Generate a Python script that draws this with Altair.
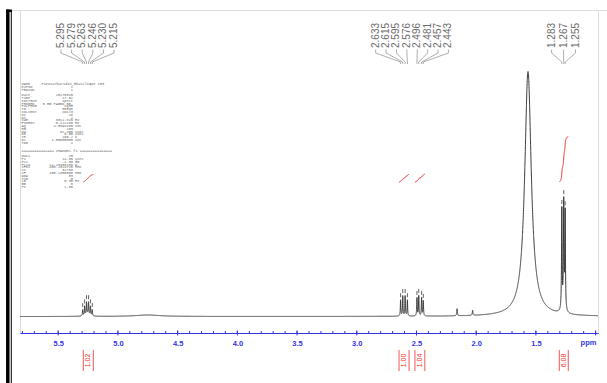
import numpy as np
import pandas as pd
import altair as alt

alt.data_transformers.disable_max_rows()

# ---------------------------------------------------------------------------
# 1H NMR spectrum: Lorentzian lines (position ppm, amplitude, half-width ppm)
# ---------------------------------------------------------------------------
peak_ppm = [5.295, 5.279, 5.263, 5.246, 5.230, 5.215, 5.255,
            2.633, 2.615, 2.595, 2.576, 2.496, 2.481, 2.457, 2.443,
            2.160, 2.030,
            1.566,
            1.283, 1.267, 1.255, 1.269,
            4.750]
peak_height = [6, 9, 12, 12, 9, 6, 2.5,
               16, 20, 20, 16, 18, 20, 18, 15,
               7, 5,
               245,
               100, 104, 97, 5,
               1.5]
peak_halfwidth = [0.0025, 0.0025, 0.0025, 0.0025, 0.0025, 0.0025, 0.02,
                  0.0025, 0.0025, 0.0025, 0.0025, 0.0025, 0.0025, 0.0025, 0.0025,
                  0.003, 0.003,
                  0.033,
                  0.0028, 0.0028, 0.0028, 0.015,
                  0.12]

# picked peaks (labels along the top)
pick_labels = ["5.295", "5.279", "5.263", "5.246", "5.230", "5.215",
               "2.633", "2.615", "2.595", "2.576", "2.496", "2.481", "2.457", "2.443",
               "1.283", "1.267", "1.255"]
pick_group = [0, 0, 0, 0, 0, 0,
              1, 1, 1, 1, 1, 1, 1, 1,
              2, 2, 2]
group_label_step = [0.089, 0.087, 0.100]   # ppm between neighbouring label columns

# integration regions
integral_start = [5.290, 2.646, 2.513, 1.304]
integral_end = [5.206, 2.562, 2.430, 1.229]
integral_value = [1.02, 1.00, 1.04, 6.08]

# ppm axis
major_ticks = [1.0, 1.5, 2.0, 2.5, 3.0, 3.5, 4.0, 4.5, 5.0, 5.5]
minor_ticks = [round(1.0 + 0.1 * i, 1) for i in range(49)]

# acquisition / processing parameters
param_names = ["NAME", "EXPNO", "PROCNO", "",
               "Date_", "Time", "INSTRUM", "PROBHD", "PULPROG", "TD", "SOLVENT",
               "NS", "DS", "SWH", "FIDRES", "AQ", "RG", "DW", "DE", "TE", "D1", "TD0"]
param_values = ["", "1", "1", "",
                "20170320", "17.52", "spect", "5 mm PABBO BB-", "zg30", "65536", "CDCl3",
                "16", "2", "8012.820", "0.122266", "4.0894465", "203", "62.400",
                "6.50", "296.2", "1.00000000", "1"]
param_units = ["", "", "", "",
               "", "", "", "", "", "", "",
               "", "", "Hz", "Hz", "sec", "", "usec", "usec", "K", "sec", ""]
data_name = "Pinocarbaridin_Hbasilique 103"
channel_title = "=============== CHANNEL f1 ==============="
channel_names = ["NUC1", "P1", "PL1", "PL1W", "SFO1", "SI", "SF",
                 "WDW", "SSB", "LB", "GB", "PC"]
channel_values = ["1H", "14.00", "-1.00", "14.43408108", "400.1324710", "32768",
                  "400.1300095", "EM", "0", "0.30", "0", "1.00"]
channel_units = ["", "usec", "dB", "W", "MHz", "", "MHz", "", "", "Hz", "", ""]

# ---------------------------------------------------------------------------
# geometry of the plot area
# ---------------------------------------------------------------------------
WIDTH, HEIGHT = 578, 323
X_DOMAIN = [0.98, 5.82]
Y_DOMAIN = [-16.5, 306.5]
BLUE = "#3434e6"
RED = "#ee2b2b"
INK = "#3a3a3a"


def ppm_at(px):
    return X_DOMAIN[1] - px / WIDTH * (X_DOMAIN[1] - X_DOMAIN[0])


def level_at(py):
    return Y_DOMAIN[1] - py / HEIGHT * (Y_DOMAIN[1] - Y_DOMAIN[0])


xs = alt.Scale(domain=X_DOMAIN, reverse=True, nice=False, zero=False)
ys = alt.Scale(domain=Y_DOMAIN, nice=False, zero=False)

ppm_axis = alt.Axis(values=major_ticks,
                    labelExpr="datum.value < 1.2 ? '' : format(datum.value, '.1f')",
                    ticks=False, grid=False, title=None, domainColor=BLUE, domainWidth=1,
                    labelColor=BLUE, labelFont="Liberation Sans", labelFontWeight="bold",
                    labelFontSize=7.5, labelPadding=6)


def X(field):
    return alt.X(field, type="quantitative", scale=xs, axis=ppm_axis)


def Y(field):
    return alt.Y(field, type="quantitative", scale=ys, axis=None)


# spectrum trace
grid = np.round(np.arange(X_DOMAIN[0], X_DOMAIN[1], 0.0005), 4)
trace = np.zeros_like(grid)
for c, h, w in zip(peak_ppm, peak_height, peak_halfwidth):
    trace += h / (1.0 + ((grid - c) / w) ** 2)
spec = pd.DataFrame({"ppm": grid, "i": np.round(trace, 3)})

spectrum = alt.Chart(spec).mark_line(color=INK, strokeWidth=1).encode(
    x=X("ppm"), y=Y("i"))

# axis ticks
minor = alt.Chart(pd.DataFrame({"ppm": minor_ticks, "lo": -16.5, "hi": -14.5})).mark_rule(
    color=BLUE, strokeWidth=1).encode(x=X("ppm"), y=Y("lo"), y2="hi:Q")
major = alt.Chart(pd.DataFrame({"ppm": major_ticks, "lo": -19.0, "hi": -14.0})).mark_rule(
    color=BLUE, strokeWidth=1).encode(x=X("ppm"), y=Y("lo"), y2="hi:Q")

ppm_title = alt.Chart(pd.DataFrame({"t": ["ppm"], "ppm": [ppm_at(568.5)],
                                    "i": [level_at(333.0)]})).mark_text(
    color=BLUE, font="Liberation Sans", fontWeight="bold", fontSize=7.5,
    align="center", baseline="middle").encode(x=X("ppm"), y=Y("i"), text="t:N")

# integrals
INT_BASE = 134.5
INT_SCALE = 7.5
rows = []
for k, (a, b, v) in enumerate(zip(integral_start, integral_end, integral_value)):
    m = (grid <= a) & (grid >= b)
    seg = trace[m]
    cum = np.cumsum(seg[::-1])[::-1]
    cum = (cum - cum.min()) / (cum.max() - cum.min())
    for p, c in zip(grid[m], cum):
        rows.append({"region": k, "ppm": float(p), "i": float(INT_BASE + c * v * INT_SCALE)})
int_curves = alt.Chart(pd.DataFrame(rows)).mark_line(color=RED, strokeWidth=1).encode(
    x=X("ppm"), y=Y("i"), detail="region:N")

edges = pd.DataFrame({"ppm": integral_start + integral_end, "lo": -54.5, "hi": -33.5})
brackets = alt.Chart(edges).mark_rule(color=RED, strokeWidth=0.8).encode(
    x=X("ppm"), y=Y("lo"), y2="hi:Q")
int_text = pd.DataFrame({
    "ppm": [(a + b) / 2 for a, b in zip(integral_start, integral_end)],
    "i": -44.0,
    "label": [f"{v:.2f}" for v in integral_value]})
int_labels = alt.Chart(int_text).mark_text(
    color=RED, font="Liberation Sans", fontSize=7, angle=270,
    align="center", baseline="middle").encode(
    x=X("ppm"), y=Y("i"), text="label:N")

# peak picking: markers, leader lines and labels
pick_ppm = [float(s) for s in pick_labels]
label_x = []
for g, step in enumerate(group_label_step):
    members = [p for p, gg in zip(pick_ppm, pick_group) if gg == g]
    centre = sum(members) / len(members)
    n = len(members)
    for i in range(n):
        label_x.append(centre + ((n - 1) / 2 - i) * step)

tops = [float(trace[np.argmin(np.abs(grid - p))]) for p in pick_ppm]
markers = alt.Chart(pd.DataFrame({"ppm": pick_ppm, "lo": [t + 2.5 for t in tops],
                                  "hi": [t + 6.5 for t in tops]})).mark_rule(
    color=INK, strokeWidth=0.8).encode(x=X("ppm"), y=Y("lo"), y2="hi:Q")

lead = []
for k, (lx, px) in enumerate(zip(label_x, pick_ppm)):
    for s, (xx, yy) in enumerate([(lx, 267.0), (lx, 263.5), (px, 254.5), (px, 252.5)]):
        lead.append({"id": k, "s": s, "ppm": xx, "i": yy})
leaders = alt.Chart(pd.DataFrame(lead)).mark_line(color="#777777", strokeWidth=0.6).encode(
    x=X("ppm"), y=Y("i"), detail="id:N", order="s:Q")

pick_text = alt.Chart(pd.DataFrame({"ppm": label_x, "i": 268.5, "label": pick_labels})).mark_text(
    color="#6a6a6a", font="Liberation Sans", fontSize=10, angle=270,
    align="left", baseline="middle").encode(
    x=X("ppm"), y=Y("i"), text="label:N")

# parameter table
LINE = 2.8
rows_n, rows_v, rows_u = [], [], []
for r, (n, v, u) in enumerate(zip(param_names, param_values, param_units)):
    yy = level_at(74.0 + r * LINE)
    rows_n.append({"ppm": ppm_at(1.5), "i": yy, "t": n})
    rows_v.append({"ppm": ppm_at(53.0), "i": yy, "t": v})
    rows_u.append({"ppm": ppm_at(55.0), "i": yy, "t": u})
y_ch = 74.0 + (len(param_names) + 1.9) * LINE
for r, (n, v, u) in enumerate(zip(channel_names, channel_values, channel_units)):
    yy = level_at(y_ch + (r + 1.9) * LINE)
    rows_n.append({"ppm": ppm_at(1.5), "i": yy, "t": n})
    rows_v.append({"ppm": ppm_at(53.0), "i": yy, "t": v})
    rows_u.append({"ppm": ppm_at(55.0), "i": yy, "t": u})
rows_n.append({"ppm": ppm_at(1.5), "i": level_at(y_ch), "t": channel_title})
rows_n.append({"ppm": ppm_at(21.5), "i": level_at(74.0), "t": data_name})

pfont = dict(font="Liberation Mono", fontSize=3.6, color="#666666", baseline="middle")
p_names = alt.Chart(pd.DataFrame(rows_n)).mark_text(align="left", **pfont).encode(
    x=X("ppm"), y=Y("i"), text="t:N")
p_vals = alt.Chart(pd.DataFrame(rows_v)).mark_text(align="right", **pfont).encode(
    x=X("ppm"), y=Y("i"), text="t:N")
p_units = alt.Chart(pd.DataFrame(rows_u)).mark_text(align="left", **pfont).encode(
    x=X("ppm"), y=Y("i"), text="t:N")

# page frame
one = pd.DataFrame({"a": [0]})
bar = alt.Chart(one).mark_rule(color="#000000", strokeWidth=3.5).encode(
    x=alt.value(-12.2), y=alt.value(-0.5), y2=alt.value(373))
bar_thin = alt.Chart(one).mark_rule(color="#000000", strokeWidth=1).encode(
    x=alt.value(-8.7), y=alt.value(0), y2=alt.value(373))
cap = alt.Chart(one).mark_rule(color="#000000", strokeWidth=2.5).encode(
    x=alt.value(-14), x2=alt.value(-8), y=alt.value(0.8))
top_line = alt.Chart(one).mark_rule(color="#dedede", strokeWidth=1).encode(
    x=alt.value(-8), x2=alt.value(587), y=alt.value(0.5))

chart = alt.layer(
    spectrum, minor, major, ppm_title,
    int_curves, brackets, int_labels,
    markers, leaders, pick_text,
    p_names, p_vals, p_units,
    bar, bar_thin, cap, top_line,
).properties(
    width=WIDTH, height=HEIGHT, autosize="none",
    padding={"left": 20, "top": 10, "right": 9, "bottom": 50},
).configure_view(stroke=None).configure(background="white")

chart.save("out.html", embed_options={"renderer": "svg", "actions": False})
